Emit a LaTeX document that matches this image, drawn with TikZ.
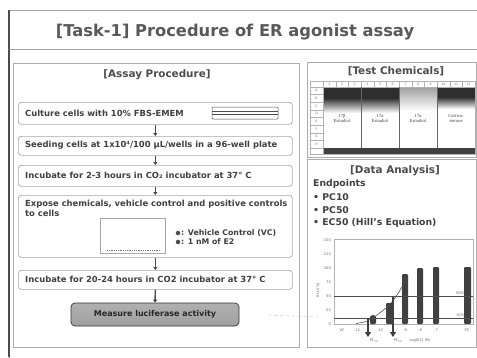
\documentclass[tikz,border=0pt]{standalone}
\usepackage{fontspec}
\setmainfont{DejaVu Sans}
\newfontfamily\serifb{Liberation Serif}
\usetikzlibrary{arrows.meta}
\tikzset{
  panel/.style={draw=gray!65, line width=0.8pt},
  stepbox/.style={draw=gray!70, line width=0.7pt, rounded corners=3pt, fill=white, anchor=north west, minimum width=274pt, inner sep=0pt},
  flow/.style={-{Triangle[width=4pt,length=3pt]}, line width=1.4pt, draw=black!70},
  txt/.style={font=\fontsize{8.4}{10}\selectfont\bfseries, text=black!75, anchor=west, inner sep=0pt},
  head/.style={font=\fontsize{10.4}{12}\selectfont\bfseries, text=black!70, inner sep=0pt},
  ep/.style={font=\fontsize{9.3}{11}\selectfont\bfseries, text=black!75, anchor=west, inner sep=0pt},
  tiny/.style={font=\fontsize{3.6}{4}\selectfont, text=black!60, inner sep=0pt},
  well/.style={font=\fontsize{3.2}{4}\selectfont, text=black!55, inner sep=0pt},
  chem/.style={font=\serifb\fontsize{4.6}{5.2}\selectfont, text=black!75, align=center, inner sep=0pt},
  bar/.style={fill=black!75, rounded corners=1.2pt},
  dose/.style={line width=1.2pt, draw=black!75, -{Triangle[width=6pt,length=5pt]}},
}
\begin{document}
\begin{tikzpicture}[x=1pt,y=-1pt]
\useasboundingbox (0,0) rectangle (477,357);
\clip (0,0) rectangle (477,357);
\fill[white] (0,0) rectangle (477,357);
% outer frame
\draw[gray!70, line width=1pt] (9,10) rectangle (500,380);
\draw[black!70, line width=1.5pt] (9,10) -- (9,357);
% title
\node[font=\fontsize{16.3}{18}\selectfont\bfseries, text=black!65] (title) at (235,32) {[Task-1] Procedure of ER agonist assay};
\draw[gray!75, line width=0.8pt] (9,49) -- (477,49);
% panels
\draw[panel] (13,63) rectangle (299,347);
\draw[panel] (307,62) rectangle (476,157);
\draw[panel] (307,159) rectangle (476,347);
% ---------------- Assay procedure
\node[head] (hap) at (157,75) {[Assay Procedure]};
\node[stepbox, minimum height=22pt] (b1) at (18,102) {};
\node[txt] (t1) at (25,113) {Culture cells with 10\% FBS-EMEM};
\draw[gray!60!black, line width=0.5pt, rounded corners=1pt] (212,107) rectangle (278,119);
\draw[gray!60!black, line width=0.5pt] (212,111) -- (278,111) (212,114) -- (278,114);
\node[stepbox, minimum height=19pt] (b2) at (18,136) {};
\node[txt] (t2) at (25,145.5) {Seeding cells at 1x10⁴/100 µL/wells in a 96-well plate};
\node[stepbox, minimum height=21pt] (b3) at (18,165) {};
\node[txt] (t3) at (25,175.5) {Incubate for 2-3 hours in CO₂ incubator at 37° C};
\node[stepbox, minimum height=62pt] (b4) at (18,195) {};
\node[txt, anchor=north west, align=left] (t4) at (25,199.5) {Expose chemicals, vehicle control and positive controls\\to cells};
\node[draw=gray!70, line width=0.6pt, fill=white, minimum width=65pt, minimum height=35pt, anchor=north west, inner sep=0pt] (plate) at (100,218) {};
\draw[black!55, densely dotted, line width=0.8pt] (107,250) -- (160,250);
\node[circle, fill=black!70, inner sep=0pt, minimum size=4.5pt] (d1) at (178,233) {};
\node[txt, font=\fontsize{7.8}{9}\selectfont\bfseries] (l1) at (181,233) {: Vehicle Control (VC)};
\node[circle, fill=black!70, inner sep=0pt, minimum size=4.5pt] (d2) at (178,242) {};
\node[txt, font=\fontsize{7.8}{9}\selectfont\bfseries] (l2) at (181,242) {: 1 nM of E2};
\node[stepbox, minimum height=19pt] (b5) at (18,270) {};
\node[txt] (t5) at (25,279.5) {Incubate for 20-24 hours in CO2 incubator at 37° C};
\node[draw=gray!40!black, line width=0.7pt, rounded corners=4pt, top color=gray!62, bottom color=gray!75, minimum width=168pt, minimum height=23pt, inner sep=0pt, font=\fontsize{8}{9}\selectfont\bfseries, text=black!85] (m) at (155,314.5) {Measure luciferase activity};
\draw[flow] (b1.south) -- (b2.north);
\draw[flow] (b2.south) -- (b3.north);
\draw[flow] (b3.south) -- (b4.north);
\draw[flow] (b4.south) -- (b5.north);
\draw[flow] (b5.south) -- (m.north);
% ---------------- Test chemicals
\node[head] (htc) at (396,71) {[Test Chemicals]};
\fill[white] (310,81) rectangle (475,154);
\fill[black!82] (323,87) rectangle (399,98);
\shade[top color=black!82, bottom color=white] (323,98) rectangle (399,113);
\shade[top color=gray!75, bottom color=white] (399,87) rectangle (437,111);
\fill[black!82] (437,87) rectangle (475,97);
\shade[top color=black!82, bottom color=white] (437,97) rectangle (475,109);
\fill[black!75] (323,148) rectangle (475,154);
\foreach \i in {0,...,12} \draw[gray!60, line width=0.3pt] ({323+\i*12.667},81) -- ({323+\i*12.667},87);
\foreach \i in {1,...,12} \node[well] at ({316.7+\i*12.667},84) {\i};
\foreach \j in {0,...,8} \draw[gray!60, line width=0.3pt] (310,{87+\j*7.625}) -- (323,{87+\j*7.625});
\foreach \l [count=\j] in {A,B,C,D,E,F,G,H} \node[well] at (316.5,{83.2+\j*7.625}) {\l};
\draw[gray!60, line width=0.4pt] (310,87) -- (475,87);
\draw[black!60, line width=0.5pt] (361,87) -- (361,148) (399,87) -- (399,148) (437,87) -- (437,148);
\draw[gray!60, line width=0.5pt] (310,81) rectangle (475,154);
\draw[gray!60, line width=0.5pt] (323,81) -- (323,154);
\node[chem] (c1) at (342,118.5) {17β\\Estradiol};
\node[chem] (c2) at (380,118.5) {17α\\Estradiol};
\node[chem] (c3) at (418,118.5) {17α\\Estradiol};
\node[chem] (c4) at (456,118.5) {Cortico-\\sterone};
% ---------------- Data analysis
\node[head] (hda) at (395,171) {[Data Analysis]};
\node[ep] (e0) at (313,184) {Endpoints};
\node[ep] (e1) at (313,197) {• PC10};
\node[ep] (e2) at (313,210) {• PC50};
\node[ep] (e3) at (313,223) {• EC50 (Hill's Equation)};
% chart
\draw[gray!60, line width=0.5pt] (334,239) rectangle (473,324);
\foreach \v in {0,25,50,75,100,125,150} \node[tiny, anchor=east] at (331,{324-\v*0.56}) {\v};
\node[tiny, rotate=90] (yl) at (318,290) {RLU (\%)};
\fill[bar] (370,316) rectangle (376,324);
\fill[black!75] (373,318) circle (3);
\fill[bar] (386,303) rectangle (393,324);
\fill[bar] (402,274) rectangle (408,324);
\fill[bar] (417,268) rectangle (423,324);
\fill[bar] (433,267) rectangle (439,324);
\fill[bar] (464,267) rectangle (471,324);
\draw[black!70, line width=0.9pt] (334,296) -- (473,296);
\draw[black!70, line width=0.9pt] (334,318) -- (473,318);
\node[tiny, anchor=south] at (460,295) {50\%};
\node[tiny, anchor=south] at (460,317) {10\%};
\draw[black!70, line width=0.6pt] plot[smooth] coordinates {(356,323.5) (366,321.5) (374,317) (386,308) (395,298) (402,287) (408,277)};
\draw[dose] (368,318) -- (368,337);
\draw[dose] (393,297) -- (393,337);
\foreach \x/\t in {342/VC,357/-12,380/-10,405/-9,420/-8,436/-7,467/PC} \node[tiny] at (\x,330) {\t};
\node[tiny] (p10) at (374,341) {PC\textsubscript{10}};
\node[tiny] (p50) at (398,341) {PC\textsubscript{50}};
\node[tiny] (lg) at (420,340.5) {Log[E2] (M)};
% faint dashed link
\coordinate (dl1) at (268,315);
\coordinate (dl2) at (318,317);
\draw[gray!55, dashed, line width=0.4pt] (dl1) -- (dl2);
\end{tikzpicture}
\end{document}
